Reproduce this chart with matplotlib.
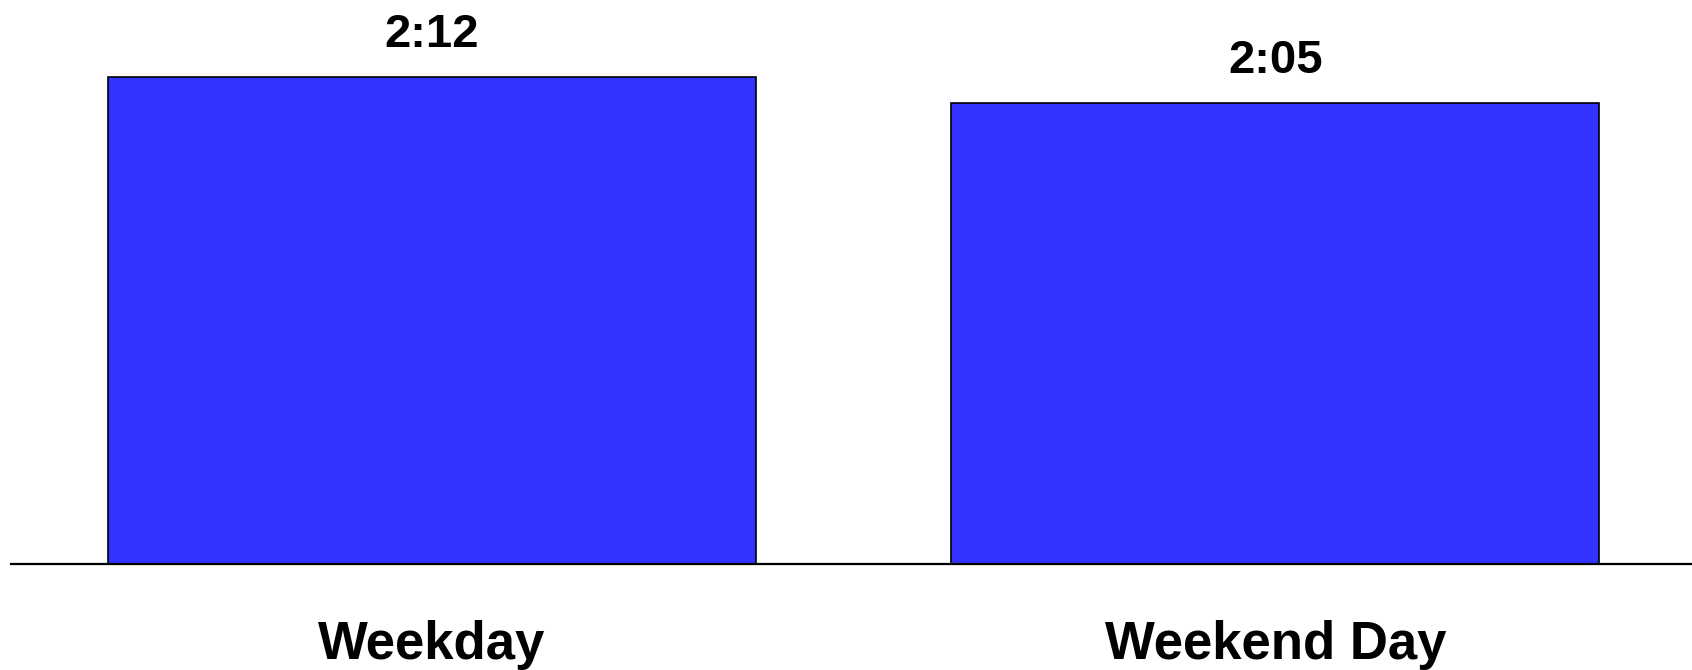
import matplotlib
matplotlib.use("Agg")
import matplotlib.pyplot as plt

categories = ["Weekday", "Weekend Day"]
minutes = [132, 125]
value_labels = ["2:12", "2:05"]

plt.rcParams['font.family'] = ['Liberation Sans', 'DejaVu Sans']

W, H = 1692, 670
fig = plt.figure(figsize=(W / 100, H / 100), dpi=100)
ax_left, ax_right = 11, 1692
ax_bottom_px = 564
ax = fig.add_axes([ax_left / W, (H - ax_bottom_px) / H, (ax_right - ax_left) / W, ax_bottom_px / H])

x = list(range(len(categories)))
ax.bar(x, minutes, width=0.768, color="#3333FF", edgecolor="black", linewidth=1.2, zorder=2)
ax.set_xlim(-0.499, 1.494)
ax.set_ylim(0, 132 * 564 / 487)

for spine in ["top", "right", "left"]:
    ax.spines[spine].set_visible(False)
ax.spines["bottom"].set_linewidth(1.6)
ax.spines["bottom"].set_zorder(3)
ax.set_yticks([])
ax.set_xticks([])

for i, (v, lab) in enumerate(zip(minutes, value_labels)):
    ax.annotate(lab, xy=(i, v), xytext=(0, 30), textcoords="offset pixels",
                ha="center", va="baseline", fontsize=34, fontweight="bold", color="black")

for i, cat in enumerate(categories):
    ax.annotate(cat, xy=(i, 0), xycoords=("data", "axes fraction"), xytext=(0, -95),
                textcoords="offset pixels", ha="center", va="baseline",
                fontsize=38, fontweight="bold", color="black", annotation_clip=False)

fig.savefig("out.png", dpi=100)
